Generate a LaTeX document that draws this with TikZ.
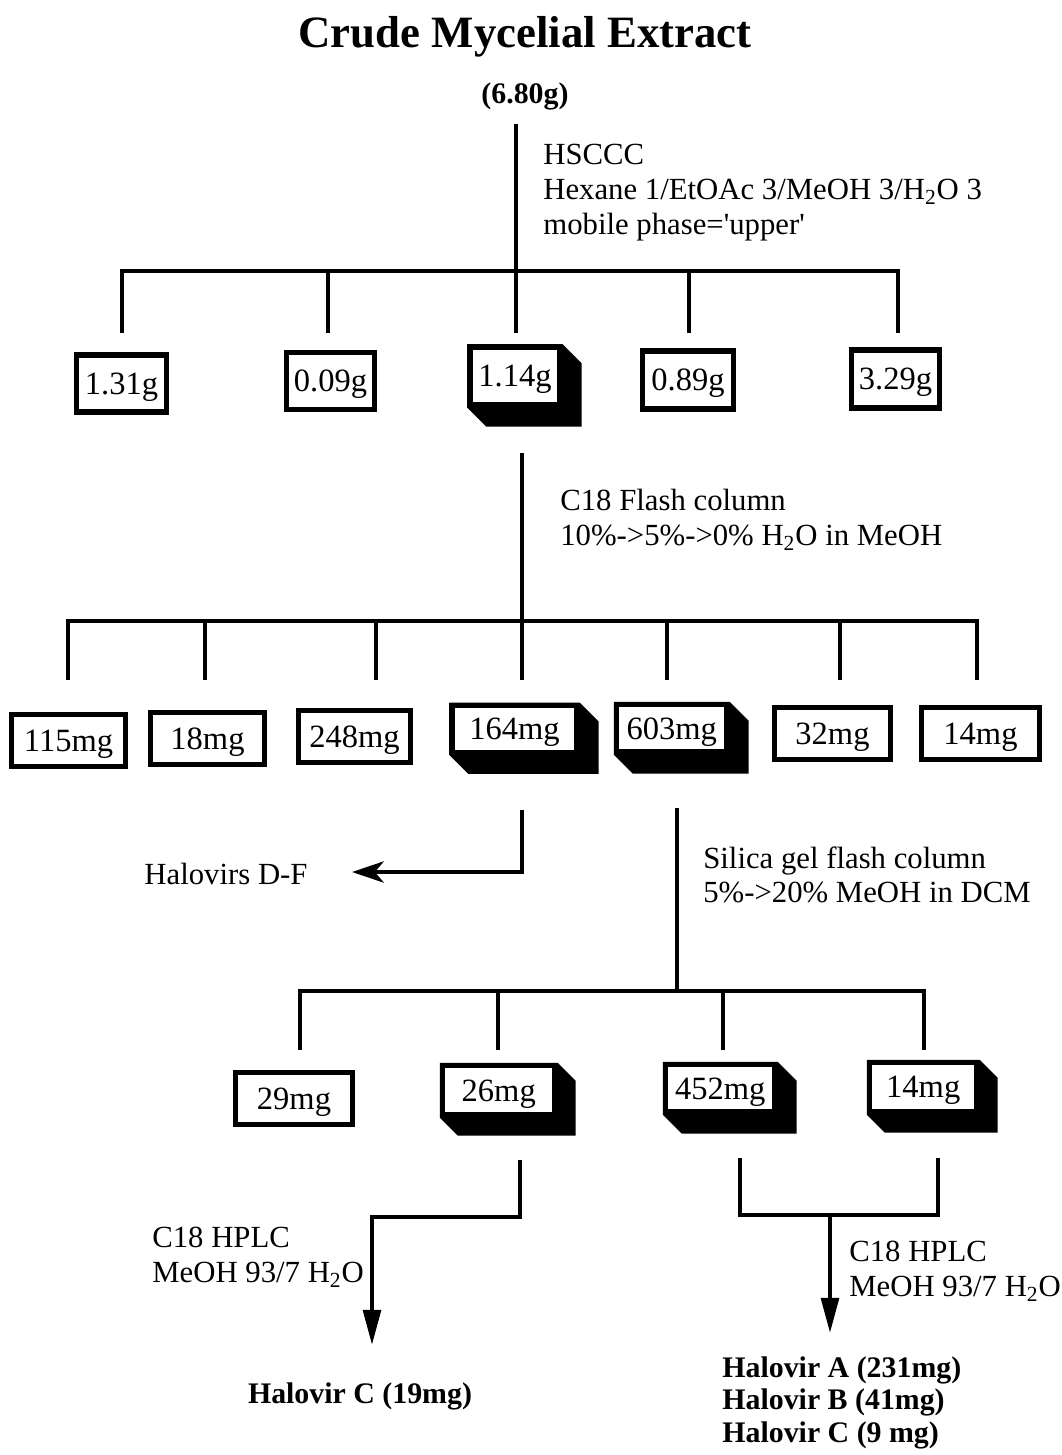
\documentclass[tikz,border=0pt]{standalone}
\usepackage{fontspec}
\setmainfont{Liberation Serif}
\usetikzlibrary{arrows.meta,calc}
\pgfdeclarelayer{bg}\pgfsetlayers{bg,main}
\tikzset{
  conn/.style={line width=2.4pt, line join=miter},
  bx/.style={draw, line width=3pt, fill=white, inner sep=0pt, text depth=0pt, font=\fontsize{18.5}{20}\selectfont},
  lbl/.style={align=left, anchor=north west, inner sep=0pt, font=\fontsize{17.5}{19.8}\selectfont},
  fin/.style={align=left, anchor=north west, inner sep=0pt, font=\bfseries\fontsize{17}{18.7}\selectfont},
  arr/.style={conn, -{Triangle[length=20pt,width=10pt]}},
  larr/.style={conn, -{Stealth[length=18pt,width=12pt,inset=5pt]}},
}
% plain box: name, cx, cy, w, h, text
\newcommand{\plbx}[6]{\node[bx, minimum width=#4*0.02cm, minimum height=#5*0.02cm] (#1) at (#2,#3) {#6};}
% shadowed box: name, cx, cy, w, h, depth, text
\newcommand{\shbx}[7]{%
  \node[bx, minimum width=#4*0.02cm, minimum height=#5*0.02cm] (#1) at (#2,#3) {#7};
  \begin{pgfonlayer}{bg}
    \fill (#1.north west) -- (#1.north east) -- ++(#6,#6) -- ($(#1.south east)+(#6,#6)$)
      -- ($(#1.south west)+(#6,#6)$) -- (#1.south west) -- cycle;
  \end{pgfonlayer}}
\begin{document}
\begin{tikzpicture}[x=0.02cm,y=-0.02cm]
\path[use as bounding box] (0,0) rectangle (1062,1455);

% title
\node[font=\bfseries\fontsize{25.5}{27}\selectfont] (title) at (525,37) {Crude Mycelial Extract};
\node[font=\bfseries\fontsize{17}{19}\selectfont] (w0) at (525,96) {(6.80g)};

% ---- level 1 ----
\coordinate (s1) at (516,124);
\coordinate (h1) at (516,271);
\draw[conn] (s1) -- (516,333);
\draw[conn] (122,333) -- (122,271) -- (898,271) -- (898,333);
\foreach \x in {328,689} \draw[conn] (\x,271) -- (\x,333);
\node[lbl] (m1) at (543,144) {HSCCC\\Hexane 1/EtOAc 3/MeOH 3/H\textsubscript{2}O 3\\mobile phase=\textquotesingle upper\textquotesingle};

\plbx{b1}{121.5}{383.5}{90}{57}{1.31g}
\plbx{b2}{330.5}{381}{88}{57}{0.09g}
\shbx{b3}{515}{376}{90}{58}{19}{1.14g}
\plbx{b4}{688}{380}{91}{58}{0.89g}
\plbx{b5}{895.5}{379}{88}{58}{3.29g}

% ---- level 2 ----
\coordinate (s2) at (522,453);
\draw[conn] (s2) -- (522,680);
\draw[conn] (68,680) -- (68,621) -- (977,621) -- (977,680);
\foreach \x in {205,376,667,840} \draw[conn] (\x,621) -- (\x,680);
\node[lbl] (m2) at (560,489) {C18 Flash column\\10\%->5\%->0\% H\textsubscript{2}O in MeOH};

\plbx{c1}{68.5}{740.5}{114}{52}{115mg}
\plbx{c2}{207.5}{738.5}{114}{52}{18mg}
\plbx{c3}{354.5}{736.5}{112}{52}{248mg}
\shbx{c4}{514.5}{728.75}{125}{47}{19}{164mg}
\shbx{c5}{671.75}{728.25}{110.5}{47.5}{19}{603mg}
\plbx{c6}{832.5}{733.5}{116}{52}{32mg}
\plbx{c7}{980.5}{733.5}{118}{52}{14mg}

% Halovirs D-F branch
\node[font=\fontsize{17.5}{19.8}\selectfont, inner sep=0pt] (hdf) at (226,874) {Halovirs D-F};
\coordinate (t1) at (352,872);
\draw[larr] (522,810) |- (t1);

% ---- level 3 ----
\coordinate (s3) at (677,808);
\draw[conn] (s3) -- (677,991);
\draw[conn] (300,1050) -- (300,991) -- (924,991) -- (924,1050);
\foreach \x in {498,723} \draw[conn] (\x,991) -- (\x,1050);
\node[lbl] (m3) at (703,846) {Silica gel flash column\\5\%->20\% MeOH in DCM};

\plbx{d1}{294}{1098.5}{117}{52}{29mg}
\shbx{d2}{498.75}{1090.25}{112.5}{49.5}{18}{26mg}
\shbx{d3}{720.25}{1088.25}{109.5}{47.5}{19}{452mg}
\shbx{d4}{923.25}{1087.25}{107.5}{49.5}{18}{14mg}

% ---- HPLC left ----
\coordinate (t2) at (372,1345);
\draw[arr] (520,1160) -- (520,1217) -- (372,1217) -- (t2);
\node[lbl] (m4) at (152,1227) {C18 HPLC\\MeOH 93/7 H\textsubscript{2}O};
\node[font=\bfseries\fontsize{17}{19}\selectfont, inner sep=0pt] (p1) at (360,1396) {Halovir C (19mg)};

% ---- HPLC right ----
\coordinate (t3) at (830,1333);
\draw[conn] (740,1158) -- (740,1215) -- (938,1215) -- (938,1158);
\draw[arr] (830,1215) -- (t3);
\node[lbl] (m5) at (849,1241) {C18 HPLC\\MeOH 93/7 H\textsubscript{2}O};
\node[fin] (p2) at (722,1356) {Halovir A (231mg)\\Halovir B (41mg)\\Halovir C (9 mg)};
\end{tikzpicture}
\end{document}
